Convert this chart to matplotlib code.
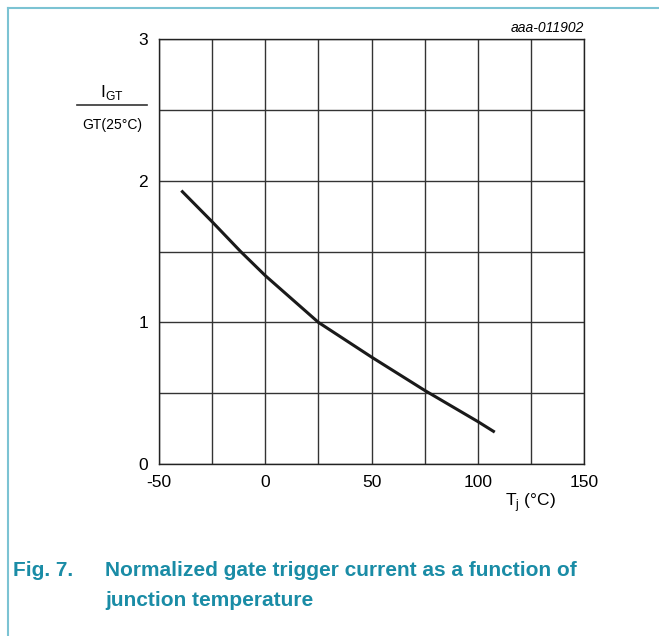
import matplotlib.pyplot as plt
from matplotlib.lines import Line2D

plt.rcParams['font.family'] = ['Liberation Sans', 'DejaVu Sans']

# junction temperature (degC) and normalized gate trigger current
tj = [-39.5, -25, -11.6, 0, 25, 50, 75, 100, 108]
igt_norm = [1.93, 1.71, 1.50, 1.33, 1.00, 0.755, 0.52, 0.30, 0.225]

x_ticks = [-50, 0, 50, 100, 150]
y_ticks = [0, 1, 2, 3]

teal = '#1a8ca6'

fig = plt.figure(figsize=(6.59, 6.36), dpi=100)
ax = fig.add_axes([0.2413, 0.2704, 0.6449, 0.6683])

ax.plot(tj, igt_norm, color='#1a1a1a', linewidth=2.2, solid_capstyle='butt')

ax.set_xlim(-50, 150)
ax.set_ylim(0, 3)
grid_x = list(range(-50, 151, 25))
grid_y = [v * 0.5 for v in range(7)]
ax.set_xticks(grid_x)
ax.set_xticklabels([str(v) if v in x_ticks else '' for v in grid_x])
ax.set_yticks(grid_y)
ax.set_yticklabels([str(int(v)) if v in y_ticks else '' for v in grid_y])
ax.tick_params(length=0, labelsize=12.5)
ax.tick_params(axis='x', pad=8)
ax.tick_params(axis='y', pad=8)
ax.grid(True, color='#333333', linewidth=1.0)
for s in ax.spines.values():
    s.set_color('#222222')
    s.set_linewidth(1.0)

# y label as a fraction
fig.text(112 / 659, 1 - 92 / 636, r'I$_\mathregular{GT}$', fontsize=12.5, ha='center', va='center')
fig.add_artist(Line2D([77 / 659, 147 / 659], [1 - 105 / 636, 1 - 105 / 636], color='#333333', linewidth=1.2))
fig.text(112 / 659, 1 - 125 / 636, 'GT(25°C)', fontsize=10, ha='center', va='center')

fig.text(530 / 659, 1 - 503 / 636, r'T$_\mathregular{j}$ (°C)', fontsize=12.5, ha='center', va='center')
fig.text(584 / 659, 1 - 28 / 636, 'aaa-011902', fontsize=10, style='italic', ha='right', va='center')

# caption
cap = dict(fontsize=15, weight='bold', color=teal, va='center')
fig.text(13 / 659, 1 - 571 / 636, 'Fig. 7.', **cap)
fig.text(105 / 659, 1 - 571 / 636, 'Normalized gate trigger current as a function of', **cap)
fig.text(105 / 659, 1 - 600 / 636, 'junction temperature', **cap)

# frame
fig.add_artist(Line2D([8 / 659, 8 / 659], [0, 1 - 8 / 636], color='#7cc3d3', linewidth=1.5))
fig.add_artist(Line2D([8 / 659, 1], [1 - 8 / 636, 1 - 8 / 636], color='#7cc3d3', linewidth=1.5))

fig.savefig('out.png', dpi=100)
